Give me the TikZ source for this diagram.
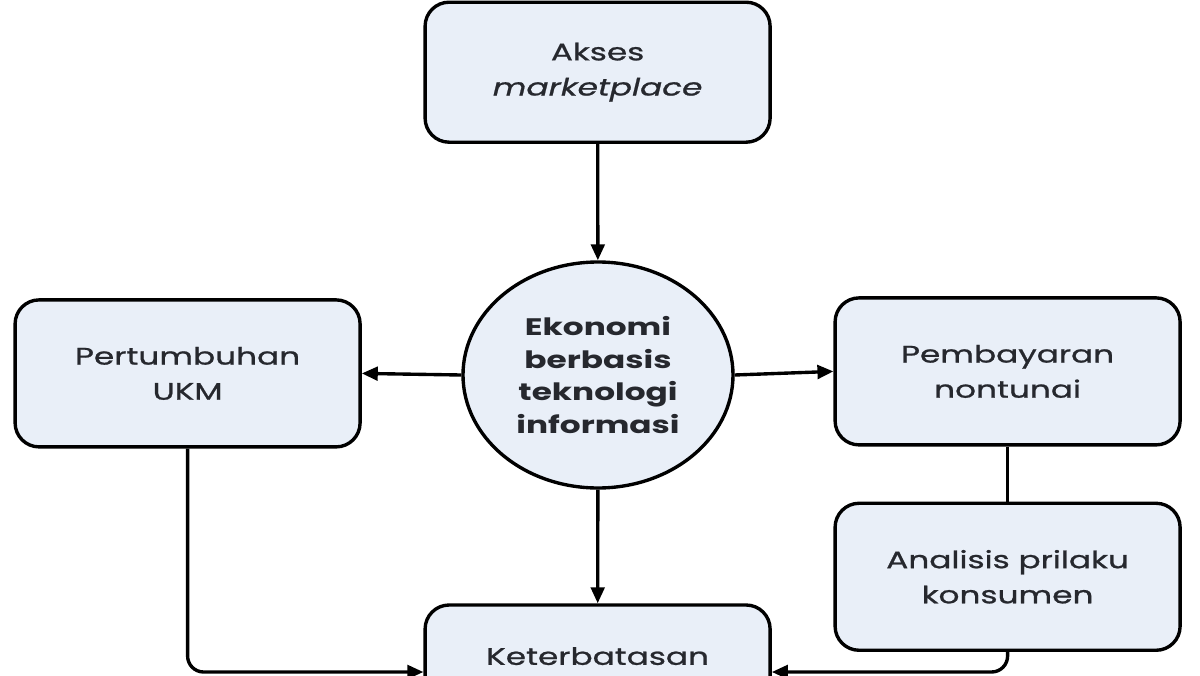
\documentclass[tikz,border=0pt]{standalone}
\usepackage{fontspec}
\setmainfont{Poppins}[FakeStretch=1.37,
  UprightFeatures={FakeBold=0.9},ItalicFeatures={FakeBold=0.9}]
\usetikzlibrary{positioning,shapes,arrows.meta}
\definecolor{boxfill}{RGB}{233,239,248}
\definecolor{inkgrey}{RGB}{38,40,46}

\begin{document}
\begin{tikzpicture}[inner sep=0.4mm,
  kotak/.style={draw=black,fill=boxfill,line width=2.4pt,rounded corners=0.6cm,
    minimum width=8.625cm,minimum height=3.675cm,align=center,text=inkgrey,
    font=\fontsize{17}{25}\selectfont},
  pusat/.style={draw=black,fill=boxfill,line width=2.4pt,ellipse,inner sep=0pt,
    minimum width=6.75cm,minimum height=5.65cm,align=center,text=inkgrey,
    font=\bfseries\fontsize{17}{23.4}\selectfont},
  panah/.style={line width=2.4pt,-{Triangle[length=4mm,width=3.4mm]}}]
\clip (0,0) rectangle (30,16.875);
\fill[white] (0,0) rectangle (30,16.875);

\node [kotak,minimum height=3.5cm] (akses) at (14.94,15.07) {Akses\\\textit{marketplace}};
\node [pusat] (ekonomi) at (14.95,7.5) {Ekonomi\\berbasis\\teknologi\\informasi};
\node [kotak] (ukm) at (4.69,7.54) {Pertumbuhan\\UKM};
\node [kotak] (bayar) at (25.19,7.59) {Pembayaran\\nontunai};
\node [kotak,below=1.375cm of bayar] (analisis) {Analisis prilaku\\konsumen};
\node [kotak,minimum height=3.35cm,text depth=0.8cm] (batas) at (14.94,0.075) {Keterbatasan};

\draw [panah] (akses) -- (ekonomi);
\draw [panah] (ekonomi.west) -- (ukm.east);
\draw [panah] (ekonomi.east) -- (bayar.west);
\draw [panah] (ekonomi) -- (batas);
\draw [line width=2.4pt] (bayar) -- (analisis);
\draw [panah,rounded corners=0.4cm] (ukm.south) |- (batas.west);
\draw [panah,rounded corners=0.4cm] (analisis.south) |- (batas.east);
% kotak bawah terpotong di tepi gambar

\end{tikzpicture}
\end{document}
